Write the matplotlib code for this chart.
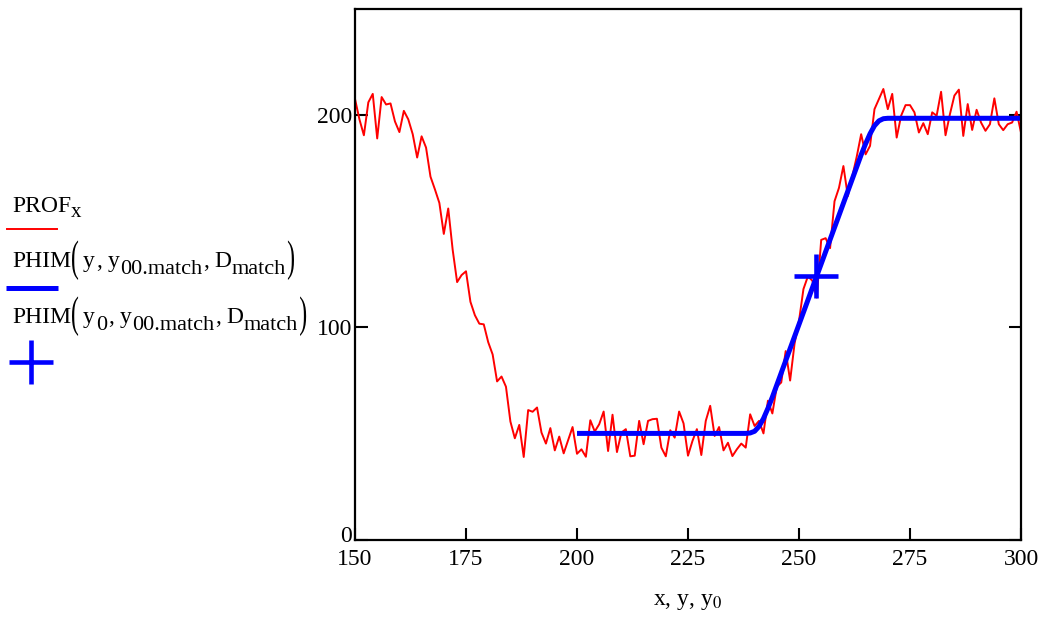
import numpy as np
import matplotlib
matplotlib.use('Agg')
import matplotlib.pyplot as plt
from matplotlib.lines import Line2D
from matplotlib.textpath import TextPath
from matplotlib.patches import PathPatch
from matplotlib.font_manager import FontProperties
from matplotlib.transforms import Affine2D, ScaledTranslation

plt.rcParams['font.family'] = ['Liberation Serif', 'DejaVu Serif']
plt.rcParams['mathtext.fontset'] = 'stix'

# ---- data ----
prof_x = list(range(150, 301))
prof = [207.6, 198, 190.5, 206, 210, 189, 208.5, 205, 205.5, 197,
        192, 202, 198, 191, 180, 190, 184.7, 171, 165, 158.6,
        144, 156, 136.5, 121.3, 124.6, 126.4, 112, 105.7, 101.7, 101.4,
        93, 87.2, 74.5, 76.8, 72, 55.6, 47.7, 54, 38.9, 61,
        60.2, 62.2, 50.4, 45.2, 52.5, 42, 48.5, 40.6, 46.8, 53,
        40.4, 42.5, 39, 56.2, 50.9, 54.3, 60.3, 41.7, 58.8, 41.2,
        50.4, 52, 39.2, 39.5, 55.9, 44.9, 55.9, 56.7, 56.9, 43.3,
        39.2, 51.5, 48, 60.3, 54.7, 39.5, 46.4, 52, 39.8, 55.9,
        63, 48.8, 53, 42, 45.6, 39.3, 42.5, 45.2, 43.3, 59,
        53.5, 55.9, 50, 65.4, 59.4, 72, 74, 88.8, 74.9, 92.3,
        103, 118, 124, 122, 114, 141.2, 142, 137.3, 159.4, 165.7,
        176, 161.8, 171.2, 180.4, 191, 181.5, 185.5, 202.8, 207.6, 212.3,
        202.8, 210, 189.4, 199.7, 204.7, 204.7, 201.3, 191.8, 196.2, 191,
        201.3, 199.7, 211, 190.5, 200.5, 209.2, 212, 190.2, 205.2, 193,
        202.5, 196.5, 192.6, 195.7, 207.9, 195.7, 192.9, 195.7, 196.5, 201.6,
        191.8]

phim_x = [200, 238, 239, 240, 241, 242, 243, 244, 264, 265, 266, 267, 268, 269, 270, 300]
phim_y = [50, 50, 50.2, 51, 53.3, 57, 61.8, 67.1, 181.3, 186.5, 191.2, 195, 197.3, 198.3, 198.5, 198.5]

y0 = [253.8]
phim_y0 = [124.2]

xticks = [150, 175, 200, 225, 250, 275, 300]
yticks = [0, 100, 200]

W, H = 1048, 623
fig = plt.figure(figsize=(W / 100, H / 100), dpi=100)
ax = fig.add_axes([355 / W, 1 - 539.5 / H, (1021 - 355) / W, (539.5 - 9) / H])

ax.plot(prof_x, prof, color='#ff0000', lw=1.4)
ax.plot(phim_x, phim_y, color='#0000ff', lw=3.6, solid_capstyle='butt')
ax.plot(y0, phim_y0, ls='none', marker='+', ms=31, mew=3.3, color='#0000ff')

ax.set_xlim(150, 300)
ax.set_ylim(0, 250)
ax.set_xticks(xticks)
ax.set_yticks(yticks)
ax.tick_params(direction='in', length=9, width=1.5, right=True, top=False, labelsize=17)
ax.tick_params(axis='x', pad=7)
ax.tick_params(axis='y', pad=2)
for s in ax.spines.values():
    s.set_linewidth(1.6)
ax.set_xlabel(r'x, y, y$_\mathrm{0}$', fontsize=17, labelpad=15)
# Mathcad lifts the "0" a little so it clears the "150" below it
lab0 = ax.get_yticklabels()[0]
lab0.set_transform(lab0.get_transform() + ScaledTranslation(0, 5 / 100, fig.dpi_scale_trans))

# ---- Mathcad-style legend on the left ----
rend = fig.canvas.get_renderer()
serif = FontProperties(family='Liberation Serif')

def tall_paren(ch, x, base):
    # thin parenthesis stretched vertically, like Mathcad's
    tp = TextPath((0, 0), ch, size=23.6, prop=serif)
    ext = tp.get_extents()
    sy = 1.85
    ty = (H - (base + 13)) - ext.y0 * sy
    patch = PathPatch(tp, fc='black', ec='none', lw=0,
                      transform=Affine2D().scale(1, sy).translate(x - ext.x0, ty))
    fig.add_artist(patch)
    return ext.width

def rich(x, base, parts):
    # parts: (text, fontsize, drop in px, gap after in px), laid out left to right
    cur = x
    for s, size, dy, gap in parts:
        if s in '()':
            cur += tall_paren(s, cur, base) + gap
            continue
        t = fig.text(cur / W, 1 - (base + dy) / H, s, fontsize=size, va='baseline')
        cur += t.get_window_extent(rend).width + gap

def phim(first, first_sub):
    p = [('PHIM', 17, 0, 1), ('(', 0, 0, 5), (first, 17, 0, 1)]
    if first_sub:
        p.append((first_sub, 16, 7, 1))
    p += [(',', 17, 0, 6), ('y', 17, 0, 0), ('00.match', 16, 7, 1),
          (',', 17, 0, 6), ('D', 17, 0, 0), ('match', 16, 7, 2), (')', 0, 0, 0)]
    return p

rich(12, 212, [('PROF', 17, 0, 0), ('x', 15, 5, 0)])
fig.add_artist(Line2D([7 / W, 57 / W], [1 - 229 / H] * 2, transform=fig.transFigure,
                      color='#ff0000', lw=1.4))
rich(12, 267, phim('y', None))
fig.add_artist(Line2D([6 / W, 58 / W], [1 - 288 / H] * 2, transform=fig.transFigure,
                      color='#0000ff', lw=3.6, solid_capstyle='butt'))
rich(12, 323, phim('y', '0'))
fig.add_artist(Line2D([31 / W], [1 - 362 / H], transform=fig.transFigure, ls='none',
                      marker='+', ms=31, mew=3.3, color='#0000ff'))

fig.savefig('out.png', dpi=100)
